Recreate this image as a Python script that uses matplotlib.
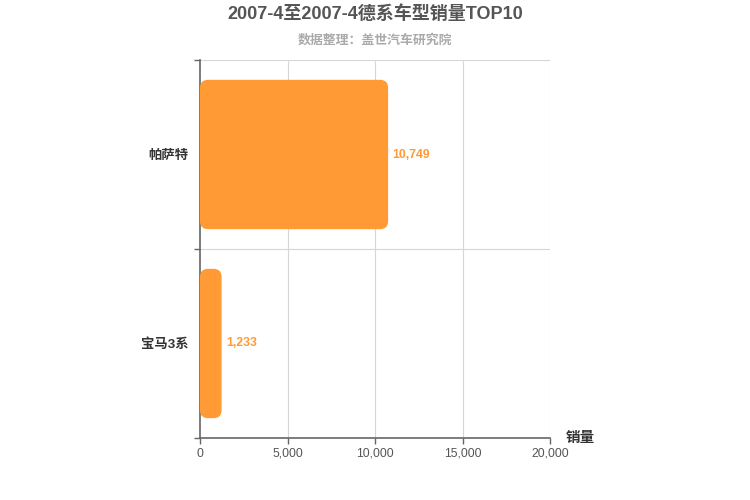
import matplotlib.pyplot as plt
from matplotlib.patches import FancyBboxPatch
from matplotlib.ticker import FuncFormatter

plt.rcParams['font.family'] = ['Liberation Sans', 'Noto Sans CJK SC', 'DejaVu Sans']

# data
models = ['帕萨特', '宝马3系']
sales = [10749, 1233]
x_ticks = [0, 5000, 10000, 15000, 20000]

title = '2007-4至2007-4德系车型销量TOP10'
subtitle = '数据整理：盖世汽车研究院'
bar_color = '#ff9a35'

fig = plt.figure(figsize=(7.5, 5), dpi=100)
ax = fig.add_axes([200 / 750, 1 - 438 / 500, 350 / 750, 378 / 500])

ypos = list(range(len(models)))
bars = ax.barh(ypos, sales, height=0.79, color=bar_color)

ax.set_xlim(0, 20000)
ax.set_ylim(len(models) - 0.5, -0.5)

# swap plain bars for rounded ones (radius ~8px)
px_x = 20000 / 350
px_y = len(models) / 378
for b in bars:
    x0, y0 = b.get_x(), b.get_y()
    w, h = b.get_width(), b.get_height()
    b.set_visible(False)
    r = 8 * px_x
    patch = FancyBboxPatch((x0, y0), w, h,
                           boxstyle=f'round,pad=0,rounding_size={min(r, w / 2)}',
                           mutation_aspect=px_y / px_x,
                           facecolor=bar_color, edgecolor='none', zorder=3)
    ax.add_patch(patch)

for i, v in enumerate(sales):
    ax.text(v + 4.5 * px_x, i, f'{v:,}', va='center', ha='left',
            color=bar_color, fontsize=8.8, fontweight='bold')

# grid
for xv in x_ticks[1:]:
    ax.axvline(xv, color='#d6d6d6', lw=0.8, zorder=1)
for yb in [-0.5, 0.5]:
    ax.axhline(yb, color='#d6d6d6', lw=0.8, zorder=1)

ax.set_xticks(x_ticks)
ax.xaxis.set_major_formatter(FuncFormatter(lambda v, p: f'{int(v):,}'))
ax.set_yticks(ypos)
ax.set_yticklabels(models, fontsize=9.6, fontweight='bold', color='#333333')
ax.set_yticks([-0.5, 0.5, 1.5], minor=True)
ax.tick_params(axis='y', which='major', length=0, pad=8)
ax.tick_params(axis='y', which='minor', length=4, width=1, color='#666666', direction='out')
ax.tick_params(axis='x', length=4, width=1, color='#666666', labelsize=8.8,
               labelcolor='#555555', pad=3)

for s in ['top', 'right']:
    ax.spines[s].set_visible(False)
for s in ['left', 'bottom']:
    ax.spines[s].set_color('#666666')
    ax.spines[s].set_linewidth(1.2)

fig.text(0.5, 1 - 14 / 500, title, ha='center', va='center',
         fontsize=13, fontweight='bold', color='#555555')
fig.text(0.5, 1 - 40 / 500, subtitle, ha='center', va='center',
         fontsize=9.3, fontweight='bold', color='#aaaaaa')
fig.text(580 / 750, 1 - 438 / 500, '销量', ha='center', va='center',
         fontsize=10.5, fontweight='bold', color='#333333')

fig.savefig('out.png', dpi=100)
